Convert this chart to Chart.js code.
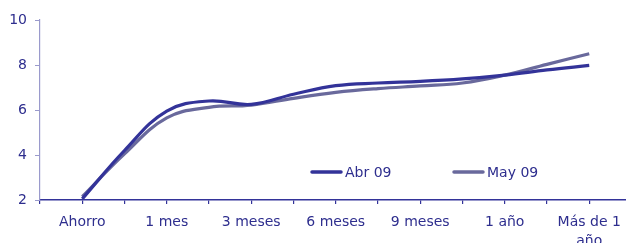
<!DOCTYPE html>
<html>
<head>
<meta charset="utf-8">
<script src="https://cdn.jsdelivr.net/npm/chart.js@4/dist/chart.umd.min.js"></script>
<style>
  html, body { margin: 0; padding: 0; background: #ffffff; overflow: hidden; }
  #wrap { position: relative; width: 626px; height: 243px; }
</style>
</head>
<body>
<div id="wrap"><canvas id="c" width="626" height="243"></canvas></div>
<script>
// ---- data ----
const categories = ['Ahorro', '', '1 mes', '', '3 meses', '', '6 meses', '', '9 meses', '', '1 año', '', ['Más de 1', 'año']];
const abr09 = [2.05, 4.2, 5.95, 6.4, 6.25, 6.7, 7.08, 7.2, 7.27, 7.38, 7.55, 7.78, 7.98];
const may09 = [2.15, 4.05, 5.65, 6.12, 6.22, 6.52, 6.78, 6.95, 7.07, 7.2, 7.55, 8.03, 8.5];
const seriesNames = ['Abr 09', 'May 09'];
const yTicks = [2, 4, 6, 8, 10];

const textColor = '#2e2e8e';
const darkBlue = '#333399';
const greyBlue = '#69699c';
const font = { family: '"DejaVu Sans", Verdana, sans-serif', size: 14, lineHeight: 1.36 };

const toPoints = arr => arr.map((v, i) => ({ x: i + 1, y: v }));

const legendPlugin = {
  id: 'customLegend',
  afterDraw(chart) {
    const ctx = chart.ctx;
    const xs = [312, 454];
    const y = 172;
    ctx.save();
    chart.data.datasets.forEach((ds, i) => {
      const x0 = xs[i];
      ctx.strokeStyle = ds.borderColor;
      ctx.lineWidth = 3.5;
      ctx.lineCap = 'round';
      ctx.beginPath();
      ctx.moveTo(x0, y);
      ctx.lineTo(x0 + 29, y);
      ctx.stroke();
      ctx.fillStyle = textColor;
      ctx.font = font.size + 'px ' + font.family;
      ctx.textAlign = 'left';
      ctx.textBaseline = 'middle';
      ctx.fillText(ds.label, x0 + 33, y + 1);
    });
    ctx.restore();
  }
};

new Chart(document.getElementById('c'), {
  type: 'line',
  data: {
    datasets: [
      { label: seriesNames[0], data: toPoints(abr09), borderColor: darkBlue, backgroundColor: darkBlue,
        borderWidth: 3.2, pointRadius: 0, tension: 0.4, fill: false },
      { label: seriesNames[1], data: toPoints(may09), borderColor: greyBlue, backgroundColor: greyBlue,
        borderWidth: 3.2, pointRadius: 0, tension: 0.4, fill: false }
    ]
  },
  options: {
    responsive: false,
    animation: false,
    devicePixelRatio: 1,
    layout: { padding: { top: 20, right: 0, left: 0, bottom: 0 } },
    plugins: { legend: { display: false }, tooltip: { enabled: false } },
    scales: {
      x: {
        type: 'linear',
        min: 0,
        max: 13.87,
        afterBuildTicks(scale) {
          scale.ticks = [];
          for (let i = 0; i <= 13; i++) scale.ticks.push({ value: i });
        },
        afterFit(scale) {
          scale.height = 43;
          scale.paddingLeft = 0;
          scale.paddingRight = 0;
        },
        ticks: {
          autoSkip: false,
          maxRotation: 0,
          color: textColor,
          font: font,
          padding: 9,
          callback(value) {
            const idx = Math.round(value) - 1;
            return (idx >= 0 && idx < categories.length) ? categories[idx] : '';
          }
        },
        grid: { drawOnChartArea: false, drawTicks: true, tickLength: 4, color: darkBlue, lineWidth: 1.2 },
        border: { display: true, color: darkBlue, width: 1.5 }
      },
      y: {
        min: 2,
        max: 10,
        afterBuildTicks(scale) { scale.ticks = yTicks.map(v => ({ value: v })); },
        afterFit(scale) {
          scale.width = 40;
          scale.paddingTop = 0;
          scale.paddingBottom = 0;
        },
        ticks: { color: textColor, font: { family: font.family, size: 14 }, padding: 8 },
        grid: { drawOnChartArea: false, drawTicks: true, tickLength: 5, color: '#9a9acc', lineWidth: 1 },
        border: { display: true, color: '#9a9acc', width: 1.2 }
      }
    }
  },
  plugins: [legendPlugin]
});
</script>
</body>
</html>
